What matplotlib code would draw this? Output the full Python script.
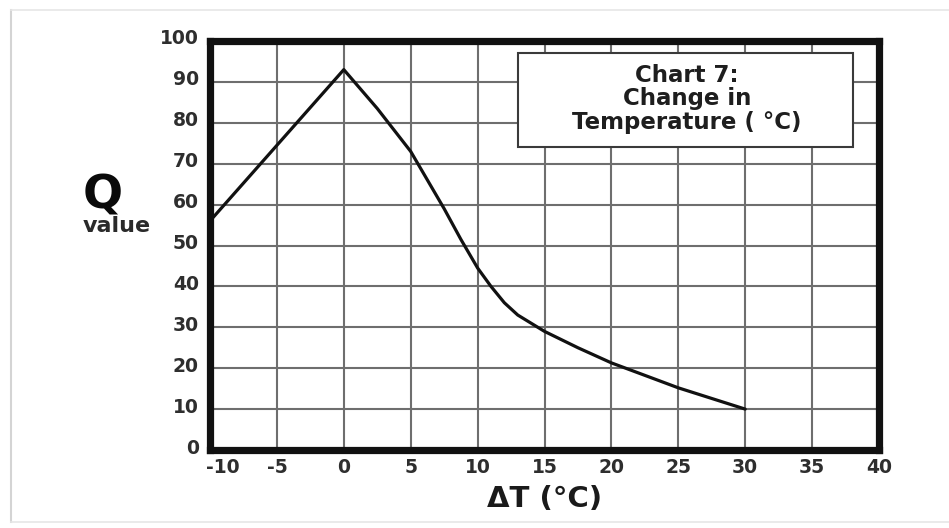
import matplotlib
matplotlib.use("Agg")
import matplotlib.pyplot as plt
from matplotlib.lines import Line2D
from matplotlib.patches import Rectangle
from matplotlib.transforms import ScaledTranslation

# ---- data ----
delta_t = [-10, -5, 0, 2.5, 5, 6.25, 7.5, 8.75, 10, 11, 12, 13, 15, 17.5, 20, 25, 30]
q_value = [56, 74.5, 93, 83.5, 73, 66, 59, 51.5, 44.5, 40, 36, 33, 29, 25, 21.3, 15.2, 10]

x_ticks = [-10, -5, 0, 5, 10, 15, 20, 25, 30, 35, 40]
y_ticks = [0, 10, 20, 30, 40, 50, 60, 70, 80, 90, 100]
box_lines = ["Chart 7:", "Change in", "Temperature ( \u00b0C)"]
x_label = "\u0394T (\u00b0C)"
y_label_big = "Q"
y_label_small = "value"

plt.rcParams['font.family'] = ['DejaVu Sans']
plt.rcParams['font.weight'] = 'bold'

W, H = 949, 528
fig = plt.figure(figsize=(W / 100, H / 100), dpi=100)
fig.patch.set_facecolor('white')

left, right, top, bottom = 210, 879, 41, 450
ax = fig.add_axes([left / W, 1 - bottom / H, (right - left) / W, (bottom - top) / H])
ax.set_xlim(-10, 40)
ax.set_ylim(0, 100)

ax.set_xticks(x_ticks)
ax.set_xticklabels([str(v) for v in x_ticks])
ax.set_yticks(y_ticks)
ax.set_yticklabels([str(v) for v in y_ticks])
ax.tick_params(axis='both', length=0, labelsize=13.5, labelcolor='#2e2e2e')
ax.tick_params(axis='x', pad=6)
ax.tick_params(axis='y', pad=8)

ax.grid(True, color='#6e6e6e', linewidth=1.5)
ax.set_axisbelow(True)

for sp in ax.spines.values():
    sp.set_linewidth(5.2)
    sp.set_color('#111111')

ax.plot(delta_t, q_value, color='#111111', linewidth=2.3, solid_joinstyle='round',
        solid_capstyle='round', zorder=3)

# tick label nudges (as in reference)
for lbl in ax.get_yticklabels():
    lbl.set_transform(lbl.get_transform() + ScaledTranslation(0, 0.04, fig.dpi_scale_trans))
xl = ax.get_xticklabels()
xl[0].set_transform(xl[0].get_transform() + ScaledTranslation(0.13, 0, fig.dpi_scale_trans))

# legend-like text box
bx0, bx1, by0, by1 = 518, 853, 53, 147
rect = Rectangle(((bx0 - left) / (right - left), (bottom - by1) / (bottom - top)),
                 (bx1 - bx0) / (right - left), (by1 - by0) / (bottom - top),
                 transform=ax.transAxes, facecolor='white', edgecolor='#3a3a3a',
                 linewidth=1.5, zorder=4)
ax.add_patch(rect)
line_base = [82, 105, 129]
for txt, yy in zip(box_lines, line_base):
    ax.text((687 - left) / (right - left), (bottom - yy) / (bottom - top), txt,
            transform=ax.transAxes, ha='center', va='baseline', fontsize=16.5,
            fontweight='bold', color='#1e1e1e', zorder=5)

# axis labels
ax.set_xlabel(x_label, fontsize=21, fontweight='bold', color='#1a1a1a')
ax.xaxis.label.set_va('baseline')
ax.xaxis.set_label_coords((545 - left) / (right - left), (bottom - 507) / (bottom - top))

fig.text(103 / W, 1 - 209 / H, y_label_big, ha='center', va='baseline', fontsize=34,
         fontweight='bold', color='#0a0a0a')
fig.text(117 / W, 1 - 232 / H, y_label_small, ha='center', va='baseline', fontsize=16,
         fontweight='bold', color='#2a2a2a')

# faint photo frame
frame_c = '#d4d4d4'
fig.add_artist(Line2D([11 / W, 11 / W], [1 - 10 / H, 1 - 522 / H], transform=fig.transFigure,
                      color=frame_c, linewidth=1.5))
fig.add_artist(Line2D([11 / W, 1.0], [1 - 10 / H, 1 - 10 / H], transform=fig.transFigure,
                      color='#e6e6e6', linewidth=1.2))
fig.add_artist(Line2D([11 / W, 1.0], [1 - 522 / H, 1 - 522 / H], transform=fig.transFigure,
                      color='#e6e6e6', linewidth=1.2))

fig.savefig("out.png", dpi=100, facecolor='white')
